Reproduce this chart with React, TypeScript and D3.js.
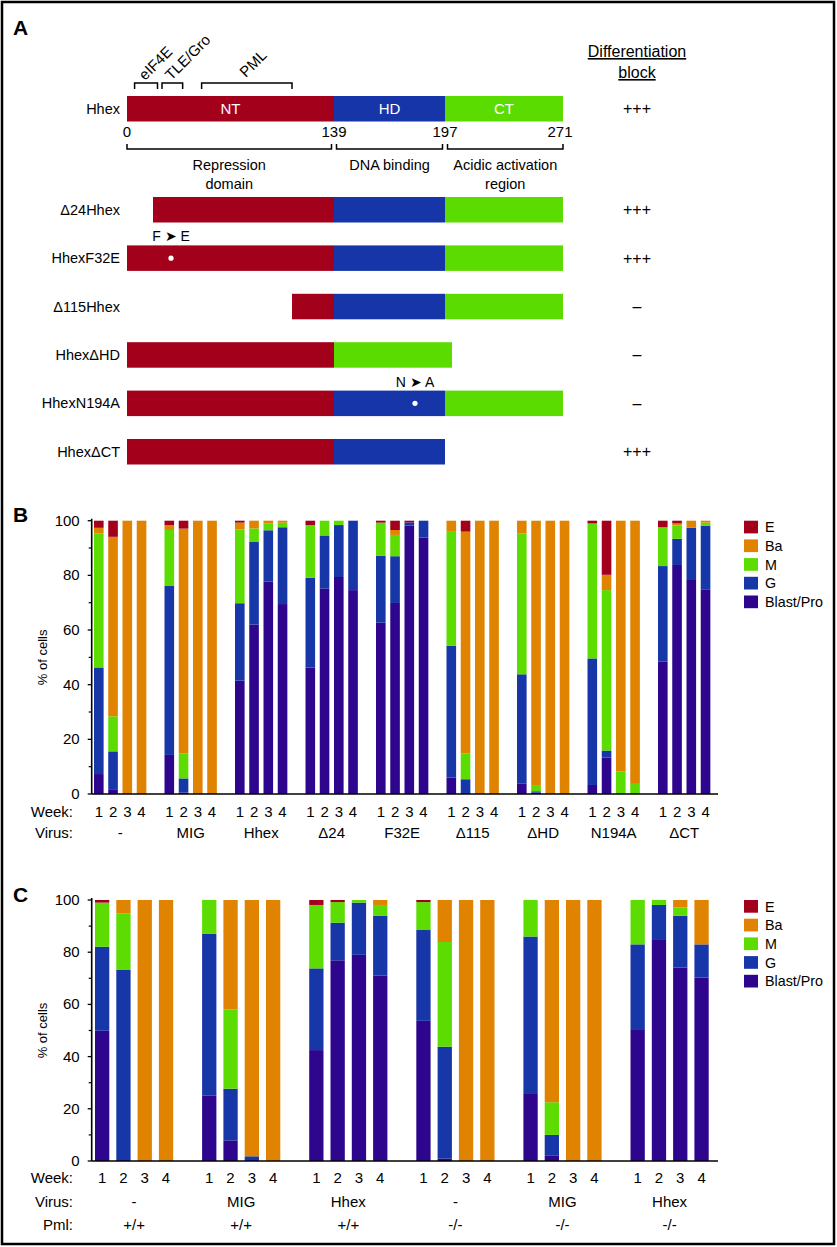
import React from 'react';
import * as d3 from 'd3';

const FONT = '"Liberation Sans", Arial, Helvetica, sans-serif';

// ---------- Panel A data ----------
const domainBounds: Record<string, [number, number]> = { NT: [0, 139], HD: [139, 197], CT: [197, 271] };
const domainColors: Record<string, string> = { NT: '#a3001b', HD: '#1535a9', CT: '#5bdc00' };
const positionTicks = [0, 139, 197, 271];
const schematicBreaks = [0, 24, 32, 115, 139, 194, 197, 271];
const regionLabels = [
  { from: 0, to: 139, lines: ['Repression', 'domain'] },
  { from: 139, to: 197, lines: ['DNA binding'] },
  { from: 197, to: 271, lines: ['Acidic activation', 'region'] },
];
const bindingSites = [
  { name: 'eIF4E', from: 7, to: 26 },
  { name: 'TLE/Gro', from: 28, to: 40 },
  { name: 'PML', from: 53, to: 115 },
];
const constructNames = ['Hhex', 'Δ24Hhex', 'HhexF32E', 'Δ115Hhex', 'HhexΔHD', 'HhexN194A', 'HhexΔCT'];
const constructDomains = [
  ['NT', 'HD', 'CT'], ['NT', 'HD', 'CT'], ['NT', 'HD', 'CT'], ['NT', 'HD', 'CT'],
  ['NT', 'CT'], ['NT', 'HD', 'CT'], ['NT', 'HD'],
];
const constructStarts = [0, 24, 0, 115, 0, 0, 0];
const constructBlock = ['+++', '+++', '+++', '–', '–', '–', '+++'];
const mutations = [
  { row: 2, pos: 32, label: 'F ➤ E' },
  { row: 5, pos: 194, label: 'N ➤ A' },
];

// ---------- Panel B/C data ----------
const seriesKeys = ['blast', 'g', 'm', 'ba', 'e'];
const seriesLabels = ['Blast/Pro', 'G', 'M', 'Ba', 'E'];
const seriesColors = ['#2e068d', '#1736a8', '#5cdc00', '#df8300', '#a3001b'];
const weeks = [1, 2, 3, 4];

const virusB = ['-', 'MIG', 'Hhex', 'Δ24', 'F32E', 'Δ115', 'ΔHD', 'N194A', 'ΔCT'];
const blastB = [7.3, 1.5, 0, 0, 14.3, 0.5, 0, 0, 41.5, 62, 77.7, 69.5, 46.3, 75.1, 79.4, 74.6, 62.7, 69.9, 98.2, 93.8, 6, 0, 0, 0, 3.9, 0.5, 0, 0, 3.3, 13.3, 0, 0, 48.4, 83.8, 78.3, 74.9];
const gB = [39, 14.1, 0, 0, 61.8, 5.2, 0, 0, 28.3, 30.2, 18.8, 28.1, 32.8, 19.5, 19, 25.4, 24.5, 17.1, 1.2, 6.2, 48.3, 5.4, 0, 0, 39.9, 0.5, 0, 0, 46.3, 2.6, 0, 0, 35, 9.6, 19.1, 23.3];
const mB = [49.1, 12.8, 0, 0, 20.5, 9.2, 0, 0, 27, 5, 2.5, 1.7, 19.3, 5.4, 1.6, 0, 12.1, 7.8, 0, 0, 41.9, 9.5, 0, 0, 51.6, 2.3, 0, 0, 49.4, 58.7, 8.2, 3.7, 14.2, 4.9, 0, 1.1];
const baB = [2, 65.7, 100, 100, 1.8, 82.2, 100, 100, 2.5, 2.8, 1, 0.7, 0, 0, 0, 0, 0, 1.8, 0, 0, 3.8, 81.1, 100, 100, 4.6, 96.7, 100, 100, 0, 5.6, 91.8, 96.3, 0, 0.7, 2.6, 0.7];
const eB = [2.6, 5.9, 0, 0, 1.6, 2.9, 0, 0, 0.7, 0, 0, 0, 1.6, 0, 0, 0, 0.7, 3.4, 0.6, 0, 0, 4, 0, 0, 0, 0, 0, 0, 1, 19.8, 0, 0, 2.4, 1, 0, 0];

const virusC = ['-', 'MIG', 'Hhex', '-', 'MIG', 'Hhex'];
const pmlC = ['+/+', '+/+', '+/+', '-/-', '-/-', '-/-'];
const blastC = [49.9, 0, 0, 0, 25, 7.9, 0, 0, 42.5, 76.9, 79, 71, 53.7, 1, 0, 0, 26, 2, 0, 0, 50.2, 85, 74.1, 70.3];
const gC = [32.2, 73.2, 0, 0, 62, 19.8, 1.8, 0, 31.3, 14.4, 20, 22.9, 34.8, 42.8, 0, 0, 60, 8, 0, 0, 32.8, 13.1, 19.9, 12.7];
const mC = [16.9, 21.7, 0, 0, 13, 30.4, 0, 0, 24.3, 7.9, 1, 4.2, 10.7, 40.1, 0, 0, 14, 12.5, 0, 0, 17, 1.9, 3.1, 0];
const baC = [0, 5.1, 100, 100, 0, 41.9, 98.2, 100, 0, 0, 0, 1.9, 0, 16.1, 100, 100, 0, 77.5, 100, 100, 0, 0, 2.9, 17];
const eC = [1, 0, 0, 0, 0, 0, 0, 0, 1.9, 0.8, 0, 0, 0.8, 0, 0, 0, 0, 0, 0, 0, 0, 0, 0, 0];

const yTicks = [0, 20, 40, 60, 80, 100];
const yMinorTicks = [10, 30, 50, 70, 90];

type Row = { group: number; week: number; [k: string]: number };

function buildRows(n: number, arrs: number[][]): Row[] {
  const rows: Row[] = [];
  for (let g = 0; g < n; g++) {
    weeks.forEach((w, wi) => {
      const i = g * 4 + wi;
      const r: Row = { group: g, week: w } as Row;
      seriesKeys.forEach((k, ki) => (r[k] = arrs[ki][i]));
      rows.push(r);
    });
  }
  return rows;
}

function BarPanel(props: {
  letter: string; letterY: number;
  rows: Row[]; groups: string[]; extraRows: { label: string; values: string[] }[];
  xRange: [number, number]; padOuterGroup: number; padInnerWeek: number;
  yRange: [number, number]; axisX: number; axisEnd: number; labelRowsY: number[];
}) {
  const { rows, groups, xRange, yRange, axisX, axisEnd } = props;
  const gx = d3.scaleBand<number>().domain(d3.range(groups.length)).range(xRange).paddingInner(props.padOuterGroup).paddingOuter(0);
  const wx = d3.scaleBand<number>().domain(weeks).range([0, gx.bandwidth()]).paddingInner(props.padInnerWeek).paddingOuter(0);
  const y = d3.scaleLinear().domain([0, 100]).range(yRange);
  const stacked = d3.stack<Row>().keys(seriesKeys)(rows);
  const legendY = y(100);
  return (
    <g>
      <text x={13} y={props.letterY} fontSize={21} fontWeight="bold" fontFamily={FONT}>{props.letter}</text>
      {stacked.map((layer, li) => (
        <g key={li} fill={seriesColors[li]}>
          {layer.map((d, i) => {
            const r = d.data;
            const h = y(d[0]) - y(d[1]);
            if (h <= 0) return null;
            return <rect key={i} x={(gx(r.group) as number) + (wx(r.week) as number)} y={y(d[1])} width={wx.bandwidth()} height={h} />;
          })}
        </g>
      ))}
      {/* axes */}
      <line x1={axisX} x2={axisX} y1={y(0)} y2={y(100) - 2} stroke="#000" strokeWidth={1.6} />
      <line x1={axisX} x2={axisEnd} y1={y(0)} y2={y(0)} stroke="#000" strokeWidth={1.6} />
      {yTicks.map((t) => (
        <g key={t}>
          <line x1={axisX - 4} x2={axisX} y1={y(t)} y2={y(t)} stroke="#000" strokeWidth={1.3} />
          <text x={axisX - 12} y={y(t) + 5} fontSize={15} textAnchor="end" fontFamily={FONT}>{t}</text>
        </g>
      ))}
      {yMinorTicks.map((t) => (
        <line key={t} x1={axisX - 3} x2={axisX} y1={y(t)} y2={y(t)} stroke="#000" strokeWidth={1.2} />
      ))}
      <text transform={`translate(47,${(y(0) + y(100)) / 2}) rotate(-90)`} fontSize={13} textAnchor="middle" fontFamily={FONT}>% of cells</text>
      {/* week labels */}
      <text x={73} y={props.labelRowsY[0] + 5} fontSize={15} textAnchor="end" fontFamily={FONT}>Week:</text>
      {d3.range(groups.length).map((g) =>
        weeks.map((w) => (
          <text key={`${g}-${w}`} x={(gx(g) as number) + (wx(w) as number) + wx.bandwidth() / 2} y={props.labelRowsY[0] + 5} fontSize={15} textAnchor="middle" fontFamily={FONT}>{w}</text>
        ))
      )}
      {props.extraRows.map((er, ri) => (
        <g key={ri}>
          <text x={73} y={props.labelRowsY[ri + 1] + 5} fontSize={15} textAnchor="end" fontFamily={FONT}>{er.label}</text>
          {er.values.map((v, g) => (
            <text key={g} x={(gx(g) as number) + gx.bandwidth() / 2} y={props.labelRowsY[ri + 1] + 5} fontSize={15} textAnchor="middle" fontFamily={FONT}>{v}</text>
          ))}
        </g>
      ))}
      {/* legend */}
      {seriesKeys.slice().reverse().map((k, i) => {
        const si = seriesKeys.length - 1 - i;
        return (
          <g key={k} transform={`translate(744,${legendY + i * 18.7})`}>
            <rect width={14} height={12.7} fill={seriesColors[si]} />
            <text x={21} y={11.5} fontSize={14.3} fontFamily={FONT}>{seriesLabels[si]}</text>
          </g>
        );
      })}
    </g>
  );
}

function PanelA() {
  const sx = d3.scaleLinear().domain(schematicBreaks).range([127, 153, 171, 292, 334, 415, 445, 563]);
  const rowTop = (i: number) => (i === 0 ? 96 : d3.scaleLinear().domain([1, 6]).range([197, 439])(i));
  const barH = 25.5;
  return (
    <g fontFamily={FONT}>
      <text x={13} y={35} fontSize={21} fontWeight="bold">A</text>
      <text x={637} y={57} fontSize={16} textAnchor="middle" textDecoration="underline">Differentiation</text>
      <text x={637} y={78} fontSize={16} textAnchor="middle" textDecoration="underline">block</text>
      {/* binding site brackets */}
      {bindingSites.map((b) => {
        const x1 = sx(b.from), x2 = sx(b.to);
        const cx = (x1 + x2) / 2;
        return (
          <g key={b.name}>
            <path d={`M${x1},89 V83 H${x2} V89`} fill="none" stroke="#000" strokeWidth={1.5} />
            <text transform={`translate(${cx - 1},${b.name === 'PML' ? 78 : 81}) rotate(-45)`} fontSize={15}>{b.name}</text>
          </g>
        );
      })}
      {constructNames.map((name, i) => {
        const top = rowTop(i);
        let cursor = sx(constructStarts[i]);
        const segs = constructDomains[i].map((d, di) => {
          const s = di === 0 ? constructStarts[i] : domainBounds[d][0];
          const w = sx(domainBounds[d][1]) - sx(s);
          const seg = { d, x: cursor, w };
          cursor += w;
          return seg;
        });
        return (
          <g key={name}>
            <text x={120} y={top + barH / 2 + 5} fontSize={14.5} textAnchor="end">{name}</text>
            {segs.map((s) => (
              <rect key={s.d} x={s.x} y={top} width={s.w} height={barH} fill={domainColors[s.d]} />
            ))}
            {i === 0 && segs.map((s) => (
              <text key={'t' + s.d} x={s.x + s.w / 2} y={top + barH / 2 + 5.5} fontSize={15} fill="#fff" textAnchor="middle">{s.d}</text>
            ))}
            <text x={637} y={top + barH / 2 + 5.5} fontSize={16} textAnchor="middle">{constructBlock[i]}</text>
          </g>
        );
      })}
      {mutations.map((m) => {
        const top = rowTop(m.row);
        return (
          <g key={m.label}>
            <circle cx={sx(m.pos)} cy={top + barH / 2} r={2.6} fill="#fff" />
            <text x={sx(m.pos)} y={top - 4} fontSize={14} textAnchor="middle">{m.label}</text>
          </g>
        );
      })}
      {/* position numbers */}
      {positionTicks.map((p, i) => (
        <text key={p} x={sx(p) - (i === positionTicks.length - 1 ? 3 : 0)} y={137} fontSize={15} textAnchor="middle">{p}</text>
      ))}
      {/* region brackets */}
      {regionLabels.map((r, i) => {
        const x1 = sx(r.from) + (i === 0 ? 0 : 2.5);
        const x2 = sx(r.to) - (i === regionLabels.length - 1 ? 0 : 2.5);
        const cx = (x1 + x2) / 2;
        return (
          <g key={i}>
            <path d={`M${x1},144 V149 H${x2} V144`} fill="none" stroke="#000" strokeWidth={1.5} />
            {r.lines.map((l, li) => (
              <text key={li} x={cx} y={170 + li * 19} fontSize={14.5} textAnchor="middle">{l}</text>
            ))}
          </g>
        );
      })}
    </g>
  );
}

export default function App() {
  const rowsB = buildRows(virusB.length, [blastB, gB, mB, baB, eB]);
  const rowsC = buildRows(virusC.length, [blastC, gC, mC, baC, eC]);
  return (
    <svg width={837} height={1247} style={{ position: 'absolute', left: 0, top: 0, background: '#fff' }}>
      <rect x={0} y={0} width={837} height={1247} fill="#fff" />
      <rect x={2} y={2} width={832} height={1242} fill="none" stroke="#000" strokeWidth={2.5} />
      <PanelA />
      <BarPanel
        letter="B" letterY={522}
        rows={rowsB} groups={virusB}
        extraRows={[{ label: 'Virus:', values: virusB }]}
        xRange={[94, 710.35]} padOuterGroup={0.2575} padInnerWeek={0.326}
        yRange={[794, 520.7]} axisX={91.7} axisEnd={718}
        labelRowsY={[812, 833]}
      />
      <BarPanel
        letter="C" letterY={902}
        rows={rowsC} groups={virusC}
        extraRows={[{ label: 'Virus:', values: virusC }, { label: 'Pml:', values: pmlC }]}
        xRange={[95, 708.7]} padOuterGroup={0.27} padInnerWeek={0.329}
        yRange={[1161, 900]} axisX={91.7} axisEnd={718}
        labelRowsY={[1178, 1202, 1225]}
      />
    </svg>
  );
}
